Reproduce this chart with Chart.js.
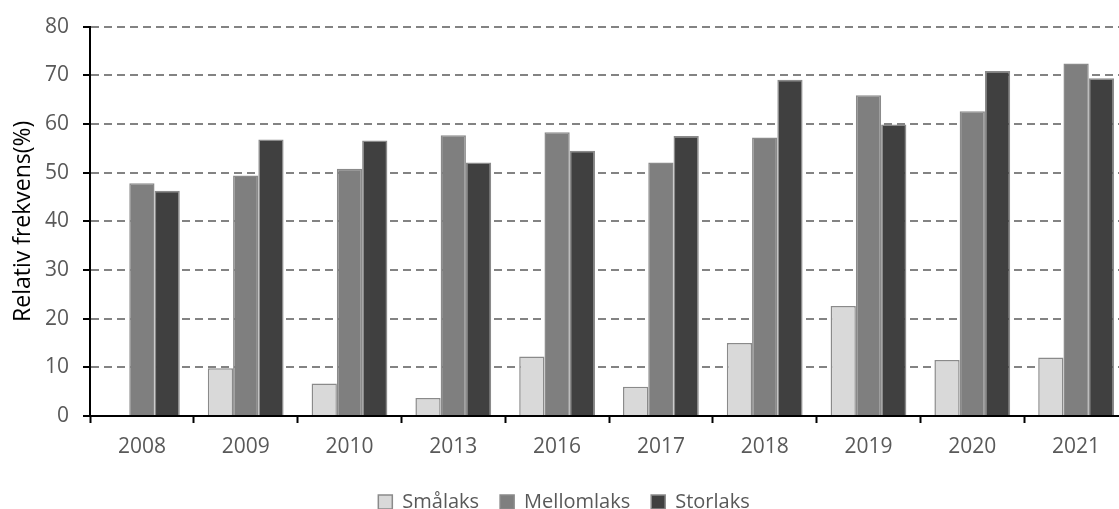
<!DOCTYPE html>
<html>
<head>
<meta charset="utf-8">
<script src="https://cdn.jsdelivr.net/npm/chart.js@4"></script>
<style>
  html, body { margin: 0; padding: 0; background: #fff; overflow: hidden; }
  #wrap { width: 1128px; height: 509px; position: relative; }
</style>
</head>
<body>
<div id="wrap"><canvas id="laks"></canvas></div>
<script>
const years = ['2008', '2009', '2010', '2013', '2016', '2017', '2018', '2019', '2020', '2021']
const smalaks = [null, 9.8, 6.7, 3.7, 12.2, 6.0, 15.0, 22.6, 11.5, 12.0]
const mellomlaks = [47.8, 49.4, 50.8, 57.7, 58.3, 52.1, 57.2, 65.9, 62.6, 72.4]
const storlaks = [46.3, 56.8, 56.6, 52.1, 54.5, 57.5, 69.1, 59.9, 70.9, 69.4]

const font = 'Open Sans'
const edge = '#8a8a8a'

new Chart(document.getElementById('laks'), {
  type: 'bar',
  data: {
    labels: years,
    datasets: [
      { label: 'Smålaks', data: smalaks, backgroundColor: '#d9d9d9', borderColor: edge, borderWidth: 1.5 },
      { label: 'Mellomlaks', data: mellomlaks, backgroundColor: '#7f7f7f', borderColor: edge, borderWidth: 1.5 },
      { label: 'Storlaks', data: storlaks, backgroundColor: '#404040', borderColor: edge, borderWidth: 1.5 }
    ]
  },
  options: {
    responsive: true,
    maintainAspectRatio: false,
    animation: false,
    datasets: {
      bar: { categoryPercentage: 0.73, barPercentage: 1 }
    },
    layout: { padding: { top: 21, right: 0, bottom: 0, left: 0 } },
    plugins: {
      tooltip: { enabled: false },
      legend: {
        position: 'bottom',
        maxHeight: 38,
        labels: {
          boxWidth: 14,
          boxHeight: 14,
          padding: 21,
          color: '#595959',
          font: { family: font, size: 20 }
        }
      }
    },
    scales: {
      x: {
        grid: {
          drawOnChartArea: false,
          drawTicks: true,
          tickLength: 7,
          tickColor: '#000',
          tickWidth: 2
        },
        border: { color: '#000', width: 2 },
        ticks: {
          color: '#595959',
          padding: 11,
          font: { family: font, size: 21 }
        },
        afterFit: scale => { scale.height = 55 }
      },
      y: {
        min: 0,
        max: 80,
        ticks: {
          stepSize: 10,
          color: '#595959',
          padding: 14,
          font: { family: font, size: 21 }
        },
        grid: {
          color: '#838383',
          lineWidth: 2,
          tickLength: 7,
          tickColor: '#000',
          tickWidth: 2,
          tickBorderDash: []
        },
        border: { color: '#000', width: 2, dash: [8, 5] },
        title: {
          display: true,
          text: 'Relativ frekvens(%)',
          color: '#000',
          padding: { top: 10, bottom: 0 },
          font: { family: font, size: 23 }
        },
        afterFit: scale => { scale.width = 90 }
      }
    }
  }
})
</script>
</body>
</html>
